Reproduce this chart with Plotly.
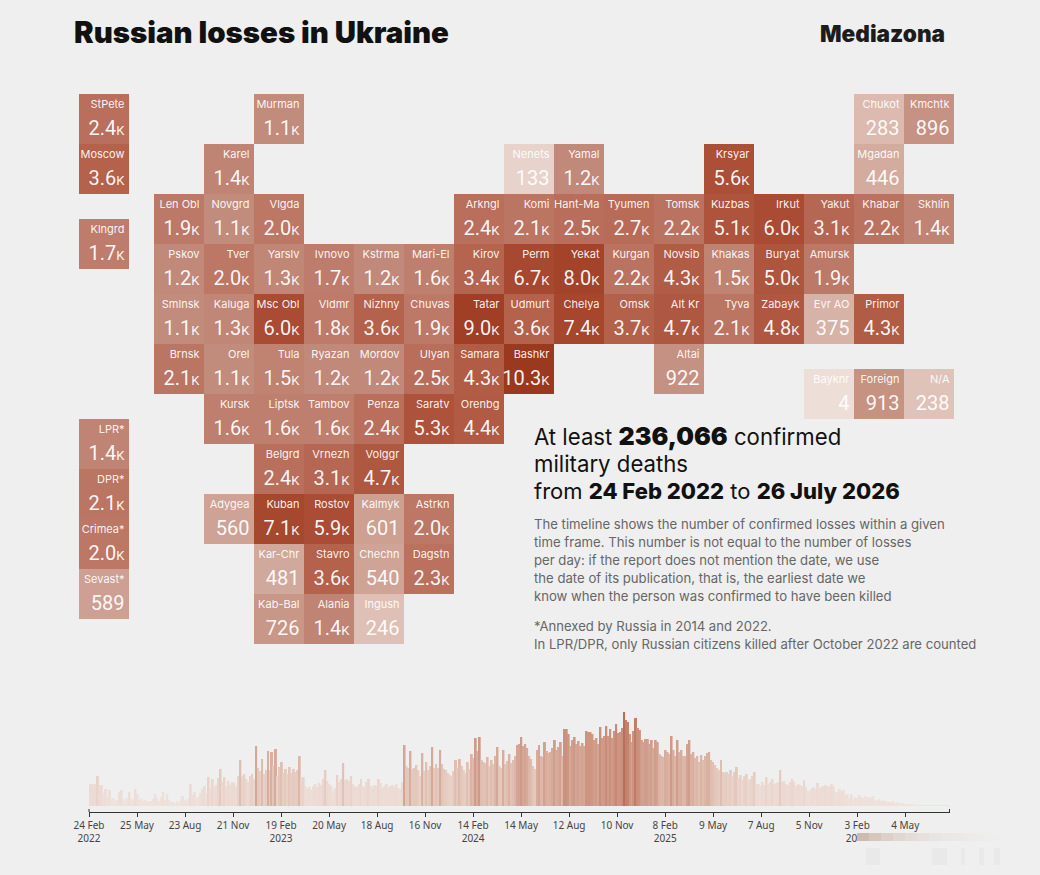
import plotly.graph_objects as go
import pandas as pd

W, H = 1040, 875
CELL, X0, Y0 = 50, 154, 94

# ---------- tile map data ----------
names = ["StPete","Murman","Chukot","Kmchtk",
 "Moscow","Karel","Nenets","Yamal","Krsyar","Mgadan",
 "Len Obl","Novgrd","Vlgda","Arkngl","Komi","Hant-Ma","Tyumen","Tomsk","Kuzbas","Irkut","Yakut","Khabar","Skhlin",
 "Klngrd",
 "Pskov","Tver","Yarslv","Ivnovo","Kstrma","Mari-El","Kirov","Perm","Yekat","Kurgan","Novsib","Khakas","Buryat","Amursk",
 "Smlnsk","Kaluga","Msc Obl","Vldmr","Nizhny","Chuvas","Tatar","Udmurt","Chelya","Omsk","Alt Kr","Tyva","Zabayk","Evr AO","Primor",
 "Brnsk","Orel","Tula","Ryazan","Mordov","Ulyan","Samara","Bashkr","Altai",
 "Bayknr","Foreign","N/A",
 "Kursk","Liptsk","Tambov","Penza","Saratv","Orenbg",
 "Belgrd","Vrnezh","Volggr",
 "Adygea","Kuban","Rostov","Kalmyk","Astrkn",
 "Kar-Chr","Stavro","Chechn","Dagstn",
 "Kab-Bal","Alania","Ingush",
 "LPR*","DPR*","Crimea*","Sevast*"]
values = [2400,1100,283,896,
 3600,1400,133,1200,5600,446,
 1900,1100,2000,2400,2100,2500,2700,2200,5100,6000,3100,2200,1400,
 1700,
 1200,2000,1300,1700,1200,1600,3400,6700,8000,2200,4300,1500,5000,1900,
 1100,1300,6000,1800,3600,1900,9000,3600,7400,3700,4700,2100,4800,375,4300,
 2100,1100,1500,1200,1200,2500,4300,10300,922,
 4,913,238,
 1600,1600,1600,2400,5300,4400,
 2400,3100,4700,
 560,7100,5900,601,2000,
 481,3600,540,2300,
 726,1400,246,
 1400,2100,2000,589]
cols = [-1.5,2,14,15,
 -1.5,1,7,8,11,14,
 0,1,2,6,7,8,9,10,11,12,13,14,15,
 -1.5,
 0,1,2,3,4,5,6,7,8,9,10,11,12,13,
 0,1,2,3,4,5,6,7,8,9,10,11,12,13,14,
 0,1,2,3,4,5,6,7,10,
 13,14,15,
 1,2,3,4,5,6,
 2,3,4,
 1,2,3,4,5,
 2,3,4,5,
 2,3,4,
 -1.5,-1.5,-1.5,-1.5]
rows = [0]*4 + [1]*6 + [2]*13 + [2.5] + [3]*14 + [4]*15 + [5]*9 + [5.5]*3 + [6]*6 + [7]*3 + [8]*5 + [9]*4 + [10]*3 + [6.5,7.5,8.5,9.5]

# ---------- timeline data (bar heights, one per ~3.75 days) ----------
timeline = [
 22,22,21,22,30,21,21,13,17,9, 16,7,8,5,6,14,16,7,5,8,
 14,6,7,17,12,6,7,5,6,4, 5,5,7,12,8,5,9,14,6,12,
 6,4,4,3,5,4,7,10,6,5, 7,22,11,14,8,9,13,17,20,12,
 29,18,27,19,21,28,37,24,29,20, 25,21,24,23,20,30,46,30,32,27,
 24,30,32,27,60,38,35,47,32,36, 55,36,54,40,57,30,39,44,33,37,
 32,39,33,37,34,36,50,28,29,20, 17,19,16,20,22,19,23,21,27,36,
 25,22,20,15,18,31,24,27,43,26, 27,25,30,22,20,19,22,27,20,19,
 24,27,20,18,21,20,27,23,18,20, 22,19,20,21,19,22,18,17,24,61,
 40,38,55,37,38,41,36,30,53,35, 44,36,40,59,38,42,38,56,42,37,
 36,33,31,30,35,46,38,47,40,36, 33,44,37,52,48,68,55,69,46,44,
 43,49,40,46,42,50,59,40,38,56, 42,45,52,43,46,50,61,62,69,60,
 62,58,50,47,40,37,56,61,50,49, 64,55,53,54,58,66,56,59,64,50,
 77,77,72,60,66,69,62,65,60,63, 60,75,74,74,72,66,68,62,79,68,
 70,80,70,77,68,75,82,73,74,78, 94,86,84,72,64,75,88,78,76,66,
 64,67,67,62,66,58,66,64,52,50, 49,56,54,52,70,56,50,66,54,56,
 50,50,62,66,52,54,48,50,44,51, 46,50,53,54,46,44,41,38,36,46,
 34,33,34,32,36,30,34,39,28,31, 26,30,32,26,27,30,34,22,22,20,
 24,21,29,22,24,27,22,23,24,36, 24,25,22,21,24,27,24,20,22,21,
 20,26,19,15,16,18,19,17,23,18, 19,20,21,20,19,22,20,14,13,17,
 15,16,11,12,8,12,7,9,8,11, 9,8,10,9,8,9,10,5,6,7,
 5,6,5,5,4,4,5,3,4,3, 3,3,2,2,2,2,2,1,1,1,
 1,1,1,0.5,0.5,0.5,0.5,0.5,0.4,0.4, 0.4,0.3,0.3,0.3,0.3,
]
tick_dates = ["2022-02-24","2022-05-25","2022-08-23","2022-11-21","2023-02-19","2023-05-20",
 "2023-08-18","2023-11-16","2024-02-14","2024-05-14","2024-08-12","2024-11-10",
 "2025-02-08","2025-05-09","2025-08-07","2025-11-05","2026-02-03","2026-05-04"]
tick_labels = ["24 Feb<br>2022","25 May","23 Aug","21 Nov","19 Feb<br>2023","20 May","18 Aug","16 Nov",
 "14 Feb<br>2024","14 May","12 Aug","10 Nov","8 Feb<br>2025","9 May","7 Aug","5 Nov","3 Feb<br>2026","4 May"]
start, end = pd.Timestamp("2022-02-24"), pd.Timestamp("2026-07-26")

body_lines = ["The timeline shows the number of confirmed losses within a given",
 "time frame. This number is not equal to the number of losses",
 "per day: if the report does not mention the date, we use",
 "the date of its publication, that is, the earliest date we",
 "know when the person was confirmed to have been killed"]
note_lines = ["*Annexed by Russia in 2014 and 2022.",
 "In LPR/DPR, only Russian citizens killed after October 2022 are counted"]

# ---------- helpers ----------
FONT = "Inter"
BG = "#efefef"
MAXV = 10300
stops = [(0,"#eeded8"),(133,"#e7d3cc"),(283,"#dcbab0"),(480,"#d1a89c"),(726,"#c99788"),(1100,"#c28c7c"),
         (1600,"#bf7f6e"),(2400,"#b96f5c"),(3600,"#b4624c"),(5000,"#ae553e"),(6000,"#a94c33"),(8000,"#a3442a"),(10300,"#9b391e")]
colorscale = [[v/MAXV, c] for v, c in stops]

def fmt(v):
    if v >= 1000:
        return f"{v/1000:.1f}<span style='font-size:13px'>K</span>"
    return str(v)

def px(x): return x / W
def py(y): return 1 - y / H

fig = go.Figure()

# tiles
fig.add_trace(go.Bar(
    x=[c + 0.5 for c in cols], y=[1]*len(cols), base=rows, width=1,
    marker=dict(color=values, colorscale=colorscale, cmin=0, cmax=MAXV, line_width=0),
    xaxis="x", yaxis="y", hoverinfo="skip", showlegend=False))
fig.add_trace(go.Scatter(
    x=[c + 0.91 for c in cols], y=[r + 0.23 for r in rows], mode="text", text=names,
    textposition="middle left", textfont=dict(family=FONT, size=11, color="rgba(255,255,255,0.93)"),
    xaxis="x", yaxis="y", hoverinfo="skip", showlegend=False))
fig.add_trace(go.Scatter(
    x=[c + 0.91 for c in cols], y=[r + 0.71 for r in rows], mode="text", text=[fmt(v) for v in values],
    textposition="middle left", textfont=dict(family="Roboto", size=20, color="rgba(255,255,255,0.95)"),
    xaxis="x", yaxis="y", hoverinfo="skip", showlegend=False))

# timeline
step = (end - start) / len(timeline)
dates = [start + step * (i + 0.5) for i in range(len(timeline))]
fig.add_trace(go.Bar(
    x=dates, y=timeline, width=step.total_seconds() * 1000,
    marker=dict(color=timeline, cmin=0, cmax=94, line_width=0,
                colorscale=[[0,"#f0e4df"],[0.25,"#ecdad3"],[0.45,"#e2c3b7"],[0.58,"#d9ae9f"],[0.72,"#cf9c8a"],[0.85,"#c98d79"],[1,"#bc6f58"]]),
    xaxis="x2", yaxis="y2", hoverinfo="skip", showlegend=False))

annotations = []
def add_text(x, y, text, size, color, family=FONT, weight=None):
    annotations.append(dict(xref="paper", yref="paper", x=px(x), y=py(y), text=text, showarrow=False,
        xanchor="left", yanchor="middle", align="left", xshift=0, borderpad=0, borderwidth=0,
        font=dict(family=family, size=size, color=color, weight=weight)))

add_text(74, 33, "Russian losses in Ukraine", 29.4, "#111", weight=900)
add_text(820, 34, "Mediazona", 22.6, "#1c1c1c", weight=900)

H800 = "<span style='font-weight:800'>%s</span>"
add_text(533.5, 436, "At least <span style='font-weight:900;font-size:25px'>236,066</span> confirmed", 22.2, "#111")
add_text(533.5, 464, "military deaths", 22.2, "#111")
add_text(533.5, 491, "from " + H800 % "24 Feb 2022" + " to " + H800 % "26 July 2026", 22, "#111")
for i, t in enumerate(body_lines):
    add_text(533.5, 524 + i * 18, t, 13.15, "#666")
for i, t in enumerate(note_lines):
    add_text(533.5, 626 + i * 18, t, 13.1, "#666")

shapes = [
    dict(type="line", xref="paper", yref="paper", x0=px(89), x1=px(89), y0=py(809), y1=py(812), line=dict(color="#333", width=1)),
    dict(type="line", xref="paper", yref="paper", x0=px(949.5), x1=px(949.5), y0=py(809), y1=py(812), line=dict(color="#333", width=1)),
    # the reference's smudge over the last year label
    dict(type="rect", xref="paper", yref="paper", layer="above", line_width=0, fillcolor=BG,
         x0=px(857), x1=px(885), y0=py(829), y1=py(846)),
]
smudge = ["#cdbbb0","#d6c7be","#dcd0c9","#e0d7d2","#e3dcd8","#e6e1de","#e8e4e2","#eae7e6","#ebe9e8","#ecebea","#ededec","#eeeeed"]
for i, c in enumerate(smudge):
    shapes.append(dict(type="rect", xref="paper", yref="paper", layer="above", line_width=0, fillcolor=c,
                       x0=px(857 + i*12), x1=px(857 + (i+1)*12), y0=py(833), y1=py(841)))
for x0, x1 in [(866,880),(932,947),(961,965),(979,984),(994,1000)]:
    shapes.append(dict(type="rect", xref="paper", yref="paper", layer="above", line_width=0, fillcolor="#e9e9e9",
                       x0=px(x0), x1=px(x1), y0=py(848), y1=py(865)))

fig.update_layout(
    width=W, height=H, margin=dict(l=0, r=0, t=0, b=0, autoexpand=False),
    paper_bgcolor=BG, plot_bgcolor="rgba(0,0,0,0)",
    showlegend=False, barmode="overlay",
    annotations=annotations, shapes=shapes,
    xaxis=dict(domain=[0, 1], range=[(0 - X0) / CELL, (W - X0) / CELL], visible=False, fixedrange=True),
    yaxis=dict(domain=[0, 1], range=[(H - Y0) / CELL, (0 - Y0) / CELL], visible=False, fixedrange=True),
    xaxis2=dict(domain=[px(89), px(949.5)], range=[start, end], anchor="y2", type="date",
                tickmode="array", tickvals=tick_dates, ticktext=tick_labels,
                ticks="outside", ticklen=4, tickwidth=1, tickcolor="#333", showgrid=False, zeroline=False,
                showline=True, linecolor="#333", linewidth=1,
                tickfont=dict(family="Noto Sans", size=10, color="#444"), fixedrange=True),
    yaxis2=dict(domain=[py(812), py(700)], range=[-6, 106], visible=False, fixedrange=True),
)
fig.write_html("out.html", config={"displayModeBar": False},
               post_script="document.body.style.margin='0';document.body.style.overflow='hidden';document.body.style.background='#efefef';")
